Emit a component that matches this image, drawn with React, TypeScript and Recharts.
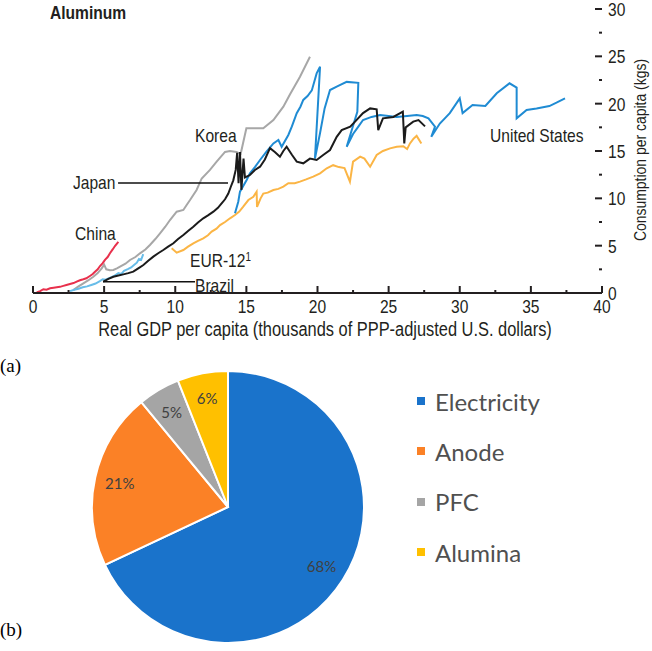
import React from "react";
import { LineChart, Line, XAxis, YAxis, PieChart, Pie, Cell, Legend } from "recharts";

// ---- panel (a): aluminium consumption vs GDP per capita ----
// [gdp (thousand PPP $), consumption (kg per capita)]
const china = [
  [0.26, 0.05], [0.5, 0.2], [0.73, 0.4], [0.95, 0.35], [1.2, 0.5], [1.45, 0.55], [1.67, 0.6],
  [1.9, 0.65], [2.13, 0.75], [2.35, 0.85], [2.6, 0.95], [2.85, 1.05], [3.07, 1.2], [3.3, 1.35],
  [3.54, 1.45], [3.75, 1.55], [4.0, 1.8], [4.2, 2.0], [4.36, 2.25], [4.55, 2.5], [4.71, 2.85],
  [4.9, 3.15], [5.06, 3.5], [5.25, 3.8], [5.41, 4.2], [5.6, 4.6], [5.76, 4.96], [6.0, 5.4],
];
const brazil = [
  [2.6, 0.2], [2.9, 0.35], [3.2, 0.45], [3.5, 0.6], [3.8, 0.7], [4.1, 0.85], [4.4, 1.0],
  [4.7, 1.25], [4.9, 1.45], [5.1, 1.4], [5.4, 1.6], [5.7, 1.8], [6.0, 2.1], [6.2, 2.0],
  [6.4, 2.35], [6.7, 2.55], [6.9, 2.7], [7.1, 2.95], [7.3, 3.2], [7.45, 3.6], [7.6, 3.5], [7.75, 4.1],
];
const japan = [
  [4.94, 1.2], [5.3, 1.5], [5.65, 1.72], [6.0, 1.85], [6.35, 1.97], [6.7, 2.1], [7.05, 2.25],
  [7.4, 2.6], [7.76, 2.96], [8.1, 3.4], [8.46, 3.84], [8.8, 4.2], [9.16, 4.54], [9.5, 4.9],
  [9.87, 5.25], [10.2, 5.7], [10.57, 6.13], [10.9, 6.55], [11.27, 7.0], [11.6, 7.45], [11.97, 7.89],
  [12.3, 8.2], [12.68, 8.59], [13.0, 9.0], [13.26, 9.47], [13.5, 9.9], [13.73, 10.5], [13.9, 11.2],
  [14.08, 11.9], [14.25, 13.0], [14.35, 14.8], [14.45, 11.6], [14.55, 14.9], [14.65, 10.9],
  [14.8, 14.2], [14.9, 12.2], [15.25, 12.46], [15.6, 13.0], [15.96, 13.34], [16.3, 14.1],
  [16.66, 15.3], [17.0, 14.9], [17.36, 14.4], [17.6, 15.0], [17.83, 15.45], [18.2, 14.6],
  [18.54, 13.87], [19.0, 13.7], [19.47, 14.2], [19.94, 14.05], [20.4, 14.58], [20.88, 15.1],
  [21.35, 16.5], [21.7, 17.2], [22.3, 17.57], [22.64, 18.1], [23.2, 19.0], [23.7, 19.5],
  [24.16, 19.4], [24.27, 17.2], [24.6, 18.45], [25.33, 18.6], [26.0, 19.15], [26.1, 15.8],
  [26.2, 17.5], [26.73, 18.1], [27.1, 18.27], [27.56, 17.6],
];
const korea = [
  [2.83, 0.3], [3.2, 0.7], [3.54, 1.02], [3.9, 1.35], [4.24, 1.72], [4.55, 2.1], [4.83, 2.6],
  [5.0, 3.0], [5.15, 2.5], [5.4, 2.4], [5.65, 2.43], [5.9, 2.6], [6.12, 2.78], [6.5, 3.1],
  [6.82, 3.49], [7.2, 3.8], [7.52, 4.19], [7.9, 4.6], [8.22, 5.07], [8.6, 5.7], [8.93, 6.3],
  [9.3, 7.0], [9.63, 7.71], [10.1, 8.59], [10.57, 8.77], [10.8, 9.3], [11.04, 9.82], [11.5, 10.88],
  [11.86, 12.1], [12.44, 13.0], [12.91, 13.87], [13.5, 14.9], [13.85, 15.0], [14.3, 14.9],
  [14.6, 14.7], [15.0, 17.4], [15.6, 17.4], [16.19, 17.4], [16.9, 18.27], [17.6, 19.68],
  [18.07, 21.0], [18.77, 22.85], [19.47, 24.96],
];
const eur12 = [
  [9.75, 4.72], [10.1, 4.26], [10.57, 4.54], [10.9, 4.9], [11.27, 5.25], [11.6, 5.5], [11.97, 5.78],
  [12.3, 6.1], [12.56, 6.48], [12.9, 6.8], [13.15, 7.18], [13.5, 7.5], [13.85, 7.89], [14.2, 8.24],
  [14.5, 8.6], [14.78, 9.12], [15.14, 9.82], [15.49, 10.17], [15.72, 10.7], [15.75, 9.1],
  [16.0, 10.0], [16.19, 10.5], [16.5, 10.6], [16.9, 10.88], [17.25, 11.0], [17.6, 11.23],
  [17.95, 11.59], [18.4, 11.6], [18.77, 11.76], [19.2, 12.0], [19.7, 12.3], [20.18, 12.64],
  [20.65, 13.17], [21.1, 13.5], [21.5, 13.3], [21.9, 13.2], [22.28, 11.76], [22.5, 13.87],
  [23.0, 14.4], [23.3, 14.2], [23.7, 13.34], [24.16, 14.58], [24.6, 15.0], [25.1, 15.28],
  [25.57, 15.45], [26.03, 15.5], [26.3, 15.2], [26.5, 15.8], [26.75, 16.3], [26.97, 16.6], [27.3, 15.8],
];
const unitedStates = [
  [14.2, 8.42], [14.43, 9.64], [14.55, 10.7], [15.02, 11.94], [15.25, 12.64], [15.6, 13.3],
  [15.96, 14.05], [16.4, 14.9], [16.9, 15.8], [17.25, 16.16], [17.48, 15.45], [17.95, 16.69],
  [18.2, 17.6], [18.54, 19.0], [18.8, 19.68], [19.0, 20.4], [19.3, 20.8], [19.6, 21.4],
  [19.94, 23.2], [20.18, 23.9], [19.82, 14.2], [20.18, 16.9], [20.5, 19.5], [20.88, 21.44],
  [21.35, 21.8], [22.05, 22.3], [22.87, 22.2], [22.8, 19.15], [22.05, 15.45], [22.5, 16.8],
  [22.87, 17.57], [23.2, 18.27], [23.8, 18.6], [24.4, 18.8], [25.0, 18.7], [25.57, 18.6],
  [26.3, 18.7], [26.97, 18.8], [27.4, 18.7], [27.8, 18.45], [28.26, 17.57], [28.0, 16.5],
  [28.6, 17.9], [29.3, 19.0], [30.0, 20.56], [30.2, 19.0], [30.9, 19.86], [31.8, 19.75],
  [32.6, 21.1], [33.5, 22.15], [34.0, 21.7], [34.0, 18.45], [34.7, 19.33], [35.4, 19.5],
  [36.3, 19.75], [36.8, 20.1], [37.4, 20.56],
];
const japanLeader = [[5.98, 11.62], [13.71, 11.62]];
const brazilLeader = [[4.92, 1.19], [11.39, 1.19]];

const xTicks = [0, 2.5, 5, 7.5, 10, 12.5, 15, 17.5, 20, 22.5, 25, 27.5, 30, 32.5, 35, 37.5, 40];
const yTicks = [0, 2.5, 5, 7.5, 10, 12.5, 15, 17.5, 20, 22.5, 25, 27.5, 30];

// ---- panel (b): cost shares ----
const costNames = ["Electricity", "Anode", "PFC", "Alumina"];
const costShares = [68, 21, 5, 6];
const costColors = ["#1a73cb", "#fb8126", "#a5a5a5", "#ffc000"];

const toPoints = (rows: number[][]) => rows.map(([x, y]) => ({ x, y }));

// no Arial Narrow here, so Liberation Sans squeezed horizontally
const SANS = "'Liberation Sans', Arial, sans-serif";
const SQUEEZE = 0.82;
const INK = "#231f20";
const CALIBRI = "Lato, 'Noto Sans', sans-serif";

const XTick = (props: any) => {
  const { x, y, payload } = props;
  const major = payload.value % 5 === 0;
  return (
    <g>
      <line x1={x} x2={x} y1={y} y2={y - (major ? 7 : 3)} stroke={INK} strokeWidth={2} />
      {major && (
        <text
          transform={`translate(${x},${y + 20}) scale(${SQUEEZE},1)`}
          textAnchor="middle"
          fontSize={19}
          fontFamily={SANS}
          fill={INK}
        >
          {payload.value}
        </text>
      )}
    </g>
  );
};

const RightTick = (props: any) => {
  const { x, y, payload } = props;
  const major = payload.value % 5 === 0;
  return (
    <g>
      <line x1={x - (major ? 7 : 3)} x2={x} y1={y} y2={y} stroke={INK} strokeWidth={2} />
      {major && (
        <text
          transform={`translate(${x + 6},${y}) scale(${SQUEEZE},1)`}
          dy="0.36em"
          textAnchor="start"
          fontSize={19}
          fontFamily={SANS}
          fill={INK}
        >
          {payload.value}
        </text>
      )}
    </g>
  );
};

const LeftTick = (props: any) => {
  const { x, y, payload } = props;
  const major = payload.value % 5 === 0;
  return <line x1={x} x2={x + (major ? 8 : 4)} y1={y} y2={y} stroke={INK} strokeWidth={2} />;
};

const renderPieLabel = (props: any) => {
  const { cx, cy, midAngle, outerRadius, value } = props;
  const r = outerRadius * 0.815;
  const rad = Math.PI / 180;
  return (
    <text
      x={cx + r * Math.cos(-midAngle * rad)}
      y={cy + r * Math.sin(-midAngle * rad)}
      textAnchor="middle"
      dominantBaseline="central"
      fill="#404040"
      fontSize={15}
      fontFamily={CALIBRI}
    >
      {value}%
    </text>
  );
};

const renderLegend = () => (
  <div>
    {costNames.map((name, i) => (
      <div key={name} style={{ display: "flex", alignItems: "center", height: 50.3 }}>
        <span style={{ width: 8, height: 8, background: costColors[i], marginRight: 10 }} />
        <span style={{ fontFamily: CALIBRI, fontSize: 24, color: "#505050" }}>{name}</span>
      </div>
    ))}
  </div>
);

const note = (left: number, top: number, size = 19): React.CSSProperties => ({
  position: "absolute",
  left,
  top,
  fontFamily: SANS,
  fontSize: size,
  lineHeight: `${size}px`,
  color: INK,
  whiteSpace: "nowrap",
  transform: `scaleX(${SQUEEZE})`,
  transformOrigin: "0 0",
});

export default function App() {
  const costData = costNames.map((name, i) => ({ name, value: costShares[i] }));
  return (
    <div style={{ position: "absolute", left: 0, top: 0, width: 652, height: 651, background: "#fff", overflow: "hidden" }}>
      <div style={{ position: "absolute", left: 0, top: 0 }}>
        <LineChart width={652} height={340} margin={{ top: 9, right: 0, bottom: 0, left: 33 }}>
          <XAxis
            type="number"
            dataKey="x"
            domain={[0, 40]}
            ticks={xTicks}
            interval={0}
            height={47}
            tickSize={0}
            tickMargin={0}
            tickLine={false}
            axisLine={{ stroke: INK, strokeWidth: 2 }}
            tick={<XTick />}
            allowDataOverflow
          />
          <YAxis
            yAxisId="r"
            orientation="right"
            type="number"
            domain={[0, 30]}
            ticks={yTicks}
            interval={0}
            width={50}
            tickSize={0}
            tickMargin={0}
            tickLine={false}
            axisLine={false}
            tick={<RightTick />}
            allowDataOverflow
          />
          <YAxis
            yAxisId="l"
            orientation="left"
            type="number"
            domain={[0, 30]}
            ticks={yTicks}
            interval={0}
            width={0}
            tickSize={0}
            tickMargin={0}
            tickLine={false}
            axisLine={false}
            tick={<LeftTick />}
            allowDataOverflow
          />
          <Line yAxisId="r" data={toPoints(korea)} dataKey="y" stroke="#a7a7a7" strokeWidth={2} dot={false} isAnimationActive={false} />
          <Line yAxisId="r" data={toPoints(eur12)} dataKey="y" stroke="#fbb545" strokeWidth={2} dot={false} isAnimationActive={false} />
          <Line yAxisId="r" data={toPoints(brazil)} dataKey="y" stroke="#68bde9" strokeWidth={2} dot={false} isAnimationActive={false} />
          <Line yAxisId="r" data={toPoints(china)} dataKey="y" stroke="#e8304c" strokeWidth={2} dot={false} isAnimationActive={false} />
          <Line yAxisId="r" data={toPoints(unitedStates)} dataKey="y" stroke="#1f8bd3" strokeWidth={2} dot={false} isAnimationActive={false} />
          <Line yAxisId="r" data={toPoints(japan)} dataKey="y" stroke="#1b1b1b" strokeWidth={2} dot={false} isAnimationActive={false} />
          <Line yAxisId="r" data={toPoints(japanLeader)} dataKey="y" stroke="#111" strokeWidth={1.4} dot={false} isAnimationActive={false} />
          <Line yAxisId="r" data={toPoints(brazilLeader)} dataKey="y" stroke="#111" strokeWidth={1.4} dot={false} isAnimationActive={false} />
        </LineChart>
      </div>

      <div style={{ ...note(50, 3, 19), fontWeight: 700 }}>Aluminum</div>
      <div style={note(195, 126)}>Korea</div>
      <div style={note(73, 173)}>Japan</div>
      <div style={note(75, 224)}>China</div>
      <div style={note(190, 251)}>
        EUR-12<sup style={{ fontSize: 12, verticalAlign: "top", lineHeight: "12px" }}>1</sup>
      </div>
      <div style={note(195, 276)}>Brazil</div>
      <div style={note(490, 126)}>United States</div>
      <div style={{ ...note(325, 319, 20), transform: `translateX(-50%) scaleX(${SQUEEZE})`, transformOrigin: "50% 50%" }}>
        Real GDP per capita (thousands of PPP-adjusted U.S. dollars)
      </div>
      <div
        style={{
          ...note(640, 150, 17),
          transform: `translate(-50%, -50%) rotate(-90deg) scaleX(${SQUEEZE})`,
          transformOrigin: "50% 50%",
        }}
      >
        Consumption per capita (kgs)
      </div>

      <div style={{ position: "absolute", left: 0, top: 356, fontFamily: "'Liberation Serif', serif", fontSize: 19, lineHeight: "19px" }}>(a)</div>
      <div style={{ position: "absolute", left: 0, top: 620, fontFamily: "'Liberation Serif', serif", fontSize: 19, lineHeight: "19px" }}>(b)</div>

      <div style={{ position: "absolute", left: 0, top: 330 }}>
        <PieChart width={652} height={321} margin={{ top: 0, right: 0, bottom: 0, left: 0 }}>
          <Pie
            data={costData}
            dataKey="value"
            nameKey="name"
            cx={228}
            cy={177}
            outerRadius={136}
            startAngle={90}
            endAngle={-270}
            stroke="#fff"
            strokeWidth={2}
            label={renderPieLabel}
            labelLine={false}
            isAnimationActive={false}
          >
            {costData.map((d, i) => (
              <Cell key={d.name} fill={costColors[i]} />
            ))}
          </Pie>
          <Legend
            layout="vertical"
            verticalAlign="top"
            align="right"
            content={renderLegend}
            wrapperStyle={{ left: 417, right: "auto", top: 46, width: 200 }}
          />
        </PieChart>
      </div>
    </div>
  );
}
